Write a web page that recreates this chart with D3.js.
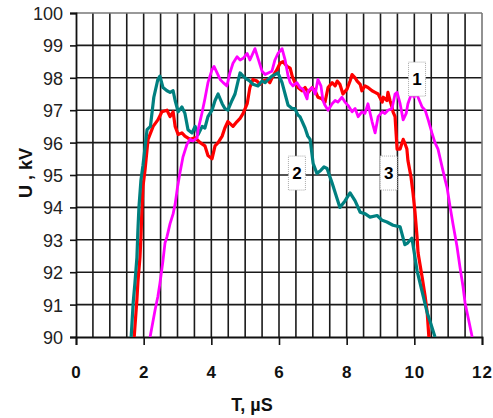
<!DOCTYPE html>
<html><head><meta charset="utf-8">
<script src="https://cdn.jsdelivr.net/npm/d3@7"></script>
<style>body{margin:0;background:#fff}svg{display:block}</style>
</head><body>
<svg id="c" width="493" height="418"></svg>
<script>
const xTicks = [0, 2, 4, 6, 8, 10, 12];
const yTicks = [90, 91, 92, 93, 94, 95, 96, 97, 98, 99, 100];
const xTitle = "T, µS";
const yTitle = "U , kV";
const seriesNames = ["1", "2", "3"];

// curve 1 (magenta)
const curve1 = [[2.19,90.0],[2.34,90.85],[2.42,91.25],[2.48,91.65],[2.57,92.35],[2.63,92.9],[2.69,93.1],[2.78,93.5],[2.87,93.8],[2.93,94.1],[2.99,94.55],[3.07,95.05],[3.16,95.55],[3.28,95.95],[3.37,96.1],[3.46,96.05],[3.58,96.15],[3.61,96.4],[3.72,96.9],[3.81,97.35],[3.90,97.85],[4.02,98.25],[4.08,98.35],[4.17,98.15],[4.26,97.95],[4.35,97.85],[4.46,97.75],[4.55,98.15],[4.64,98.45],[4.76,98.65],[4.85,98.55],[4.94,98.6],[5.06,98.75],[5.14,98.55],[5.29,98.9],[5.38,98.6],[5.50,98.2],[5.59,98.1],[5.68,98.15],[5.79,98.2],[5.88,98.55],[5.97,98.75],[6.09,98.9],[6.18,98.55],[6.27,98.05],[6.33,97.85],[6.41,97.75],[6.53,97.85],[6.62,97.7],[6.71,97.65],[6.83,97.35],[6.86,97.6],[6.98,97.7],[7.07,97.5],[7.15,97.95],[7.24,97.75],[7.30,97.3],[7.36,97.15],[7.45,97.0],[7.57,97.2],[7.66,97.3],[7.74,97.25],[7.86,97.4],[7.95,97.25],[8.04,97.15],[8.16,96.95],[8.25,97.05],[8.34,96.8],[8.45,96.95],[8.54,96.9],[8.63,97.2],[8.75,96.65],[8.84,96.3],[8.93,96.8],[9.05,96.95],[9.13,96.9],[9.22,97.0],[9.34,97.05],[9.43,97.5],[9.49,97.55],[9.58,97.2],[9.67,96.7],[9.76,96.9],[9.81,97.2],[9.93,97.55],[9.99,97.4],[10.05,97.55],[10.11,97.4],[10.23,97.1],[10.32,97.0],[10.41,96.7],[10.52,96.3],[10.61,96.0],[10.70,95.8],[10.82,95.25],[10.91,94.85],[10.97,94.6],[11.06,94.0],[11.14,93.5],[11.26,92.8],[11.35,92.15],[11.44,91.55],[11.50,91.05],[11.59,90.6],[11.71,90.0]];

// curve 2 (teal)
const curve2 = [[1.63,90.0],[1.69,91.05],[1.74,91.65],[1.80,92.45],[1.83,93.3],[1.86,94.0],[1.92,94.85],[1.98,95.3],[2.10,96.4],[2.20,96.5],[2.30,97.4],[2.42,97.95],[2.48,98.05],[2.57,97.7],[2.69,97.6],[2.78,97.55],[2.87,97.6],[2.93,97.3],[3.02,96.95],[3.13,97.1],[3.22,96.9],[3.31,96.4],[3.43,96.3],[3.52,96.5],[3.61,96.25],[3.73,96.5],[3.81,96.45],[3.90,96.8],[4.02,97.0],[4.11,97.3],[4.20,97.5],[4.32,97.2],[4.40,97.05],[4.49,97.0],[4.61,97.3],[4.70,97.5],[4.79,97.9],[4.85,98.15],[4.94,98.05],[5.06,97.95],[5.14,97.9],[5.23,97.8],[5.38,97.75],[5.50,97.9],[5.59,97.85],[5.68,97.95],[5.79,98.05],[5.88,98.1],[5.97,98.15],[6.09,97.85],[6.18,97.5],[6.27,97.15],[6.39,97.05],[6.47,97.05],[6.56,96.85],[6.62,96.8],[6.77,96.45],[6.85,96.2],[6.92,96.1],[7.01,95.35],[7.12,95.05],[7.24,95.15],[7.33,95.25],[7.42,95.2],[7.57,94.75],[7.80,94.0],[7.95,94.2],[8.10,94.45],[8.25,94.2],[8.40,93.85],[8.55,93.8],[8.69,93.7],[8.90,93.75],[9.05,93.6],[9.19,93.55],[9.37,93.45],[9.58,93.4],[9.72,92.85],[9.80,92.9],[9.93,93.05],[10.08,92.05],[10.23,91.4],[10.38,90.75],[10.46,90.5],[10.61,90.0]];

// curve 3 (red)
const curve3 = [[1.72,90.0],[1.80,91.15],[1.83,91.7],[1.89,92.45],[1.92,93.1],[1.95,94.0],[1.98,94.65],[2.04,95.15],[2.13,96.1],[2.28,96.5],[2.42,96.7],[2.54,96.95],[2.69,97.0],[2.78,96.8],[2.87,96.95],[2.93,96.5],[3.02,96.25],[3.13,96.3],[3.22,96.2],[3.37,96.1],[3.52,96.15],[3.67,96.0],[3.81,95.9],[3.90,95.6],[4.02,95.5],[4.11,95.9],[4.20,96.0],[4.32,96.2],[4.40,96.45],[4.49,96.65],[4.64,96.5],[4.76,96.65],[4.85,96.75],[4.94,96.9],[5.06,97.2],[5.14,97.7],[5.23,97.95],[5.35,97.9],[5.44,97.8],[5.53,97.9],[5.65,97.95],[5.73,97.85],[5.82,98.05],[5.94,98.25],[6.03,98.45],[6.12,98.5],[6.24,98.35],[6.33,98.3],[6.39,98.05],[6.47,97.85],[6.56,97.7],[6.68,97.6],[6.77,97.7],[6.86,97.55],[6.98,97.7],[7.07,97.6],[7.15,97.4],[7.27,97.35],[7.36,97.25],[7.45,97.7],[7.57,97.85],[7.66,97.75],[7.72,97.9],[7.80,97.8],[7.86,97.6],[7.89,97.5],[8.01,97.65],[8.10,97.9],[8.16,98.1],[8.25,98.0],[8.31,97.9],[8.40,97.8],[8.45,97.6],[8.54,97.75],[8.63,97.7],[8.75,97.6],[8.84,97.55],[8.93,97.5],[9.05,97.25],[9.08,97.4],[9.19,97.3],[9.22,97.55],[9.28,97.3],[9.34,97.1],[9.37,96.95],[9.43,96.8],[9.46,96.3],[9.49,95.8],[9.58,95.8],[9.67,96.1],[9.73,95.95],[9.78,95.8],[9.81,95.45],[9.90,94.95],[9.96,94.45],[10.02,93.85],[10.08,93.1],[10.11,92.6],[10.23,91.85],[10.32,91.25],[10.38,90.75],[10.43,90.0]];

const labelPos = [[10.08, 97.96], [6.53, 95.06], [9.24, 95.06]]; // label anchor in data units

const svg = d3.select("#c");
const m = {l: 76, r: 482, t: 13, b: 337};
const x = d3.scaleLinear().domain([0, 12]).range([m.l, m.r]);
const y = d3.scaleLinear().domain([90, 100]).range([m.b, m.t]);

// grid
const gx = d3.range(0.5, 12, 0.5);
svg.append("g").selectAll("line").data(gx).join("line")
  .attr("x1", d => x(d)).attr("x2", d => x(d)).attr("y1", m.t).attr("y2", m.b)
  .attr("stroke", "#1a1a1a").attr("stroke-width", 1.6);
svg.append("g").selectAll("line").data(yTicks.filter(v => v > 90 && v < 100)).join("line")
  .attr("x1", m.l).attr("x2", m.r).attr("y1", d => y(d)).attr("y2", d => y(d))
  .attr("stroke", "#1a1a1a").attr("stroke-width", 1.6);
// top and right border
svg.append("line").attr("x1", m.l).attr("x2", m.r).attr("y1", m.t).attr("y2", m.t).attr("stroke", "#777").attr("stroke-width", 1.6);
svg.append("line").attr("x1", m.r).attr("x2", m.r).attr("y1", m.t).attr("y2", m.b).attr("stroke", "#777").attr("stroke-width", 1.6);

// axes
const ya = d3.axisLeft(y).tickValues(yTicks).tickSize(6).tickFormat(d3.format("d"));
const yg = svg.append("g").attr("transform", `translate(${m.l},0)`).call(ya);
yg.select(".domain").attr("stroke", "#111").attr("stroke-width", 1.8);
yg.selectAll(".tick line").attr("stroke", "#111").attr("stroke-width", 1.6);
yg.selectAll("text").attr("font-family", "'Liberation Sans Narrow','Liberation Sans',Arial,sans-serif")
  .attr("font-size", 18).attr("fill", "#222").attr("x", -13).attr("dy", "0.36em");

const xa = d3.axisBottom(x).tickValues(xTicks).tickSize(8).tickFormat(d3.format("d"));
const xg = svg.append("g").attr("transform", `translate(0,${m.b})`).call(xa);
xg.select(".domain").attr("stroke", "#111").attr("stroke-width", 1.8);
xg.selectAll(".tick line").attr("stroke", "#111").attr("stroke-width", 1.6);
xg.selectAll("text").attr("font-family", "'Liberation Sans',Arial,sans-serif").attr("font-weight", "bold")
  .attr("font-size", 17).attr("fill", "#111").attr("y", 0).attr("dy", 0)
  .attr("transform", "translate(0,41)").attr("letter-spacing", 1);

// titles
svg.append("text").attr("x", 252).attr("y", 411).attr("text-anchor", "middle")
  .attr("font-family", "'Liberation Sans',Arial,sans-serif").attr("font-weight", "bold").attr("font-size", 18)
  .attr("fill", "#111").text(xTitle);
svg.append("text").attr("transform", "translate(32,173) rotate(-90)").attr("text-anchor", "middle")
  .attr("font-family", "'Liberation Sans',Arial,sans-serif").attr("font-weight", "bold").attr("font-size", 18)
  .attr("fill", "#111").text(yTitle);

// curves
const line = d3.line().x(d => x(d[0])).y(d => y(d[1]));
svg.append("clipPath").attr("id", "pc").append("rect").attr("x", m.l).attr("y", m.t).attr("width", m.r - m.l).attr("height", m.b - m.t);
const cg = svg.append("g").attr("clip-path", "url(#pc)");
const curves = [
  {d: curve3, c: "#ff0000", w: 3.2},
  {d: curve2, c: "#008080", w: 3.2},
  {d: curve1, c: "#ff00ff", w: 2.8}
];
curves.forEach(s => cg.append("path").attr("d", line(s.d)).attr("fill", "none")
  .attr("stroke", s.c).attr("stroke-width", s.w).attr("stroke-linejoin", "round"));

// labels
const lg = svg.append("g");
seriesNames.forEach((n, i) => {
  const cx = x(labelPos[i][0]), cy = y(labelPos[i][1]);
  lg.append("rect").attr("x", cx - 8.5).attr("y", cy - 17).attr("width", 17).attr("height", 34)
    .attr("fill", "#fff").attr("stroke", "#aaa").attr("stroke-width", 1).attr("stroke-dasharray", "1,1");
  lg.append("text").attr("x", cx).attr("y", cy + 6).attr("text-anchor", "middle")
    .attr("font-family", "'Liberation Sans',Arial,sans-serif").attr("font-weight", "bold").attr("font-size", 17)
    .attr("fill", "#000").text(n);
});
</script>
</body></html>
